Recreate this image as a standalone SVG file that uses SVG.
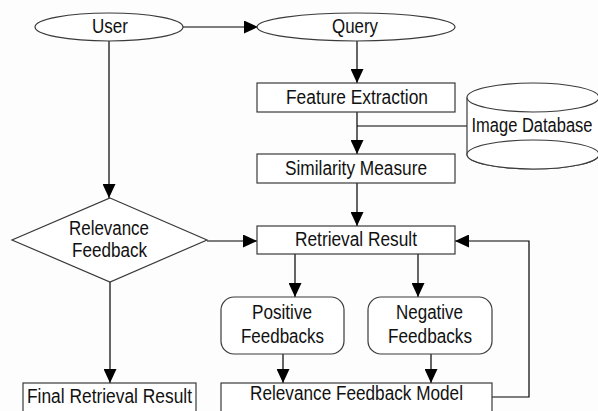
<svg xmlns="http://www.w3.org/2000/svg" width="598" height="411" viewBox="0 0 598 411">
<style>
.s{fill:#fff;stroke:#3a3a3a;stroke-width:1.2}
.c{fill:none;stroke:#000;stroke-width:1.2}
text{font-family:"Liberation Sans",Arial,sans-serif;font-size:19.5px;fill:#111;text-anchor:middle}
</style>
<defs>
<marker id="ah" markerUnits="userSpaceOnUse" markerWidth="15" markerHeight="13" refX="14" refY="6.5" orient="auto">
<path d="M0,0 L14,6.5 L0,13 z" fill="#000"/>
</marker>
</defs>
<rect width="598" height="411" fill="#fdfdfd"/>
<g id="connectors">
<path class="c" d="M183,27 H258" marker-end="url(#ah)"/>
<path class="c" d="M109,41 V198" marker-end="url(#ah)"/>
<path class="c" d="M357,41 V83" marker-end="url(#ah)"/>
<path class="c" d="M357,112 V154" marker-end="url(#ah)"/>
<path class="c" d="M357,126 H467"/>
<path class="c" d="M357,183 V226" marker-end="url(#ah)"/>
<path class="c" d="M207,241 H257" marker-end="url(#ah)"/>
<path class="c" d="M295,254 V297" marker-end="url(#ah)"/>
<path class="c" d="M418,254 V297" marker-end="url(#ah)"/>
<path class="c" d="M283,354 V383" marker-end="url(#ah)"/>
<path class="c" d="M431,354 V383" marker-end="url(#ah)"/>
<path class="c" d="M492,397 H529 V241 H455" marker-end="url(#ah)"/>
<path class="c" d="M110,282 V383" marker-end="url(#ah)"/>
</g>
<g id="user">
<ellipse class="s" cx="109" cy="27" rx="74" ry="14"/>
<text x="110" y="33" textLength="36" lengthAdjust="spacingAndGlyphs">User</text>
</g>
<g id="query">
<ellipse class="s" cx="356" cy="27" rx="99" ry="14"/>
<text x="355" y="33" textLength="46" lengthAdjust="spacingAndGlyphs">Query</text>
</g>
<g id="feature-extraction">
<rect class="s" x="257" y="83" width="198" height="29"/>
<text x="357" y="104" textLength="142" lengthAdjust="spacingAndGlyphs">Feature Extraction</text>
</g>
<g id="image-database">
<path class="s" d="M467,97.5 V154.5 A66,14.5 0 0 0 599,154.5 V97.5"/>
<ellipse class="s" cx="533" cy="97.5" rx="66" ry="14.5"/>
<ellipse class="s" cx="533" cy="154.5" rx="66" ry="14.5"/>
<text x="532" y="132" textLength="121" lengthAdjust="spacingAndGlyphs">Image Database</text>
</g>
<g id="similarity-measure">
<rect class="s" x="257" y="154" width="198" height="29"/>
<text x="356" y="175" textLength="142" lengthAdjust="spacingAndGlyphs">Similarity Measure</text>
</g>
<g id="relevance-feedback">
<polygon class="s" points="110,198 207,240 110,282 12,240"/>
<text x="109" y="235" textLength="80" lengthAdjust="spacingAndGlyphs">Relevance</text>
<text x="109.5" y="257" textLength="75" lengthAdjust="spacingAndGlyphs">Feedback</text>
</g>
<g id="retrieval-result">
<rect class="s" x="257" y="226" width="198" height="28"/>
<text x="356" y="246" textLength="122" lengthAdjust="spacingAndGlyphs">Retrieval Result</text>
</g>
<g id="positive-feedbacks">
<rect class="s" x="221" y="297" width="123" height="57" rx="13"/>
<text x="282" y="319" textLength="60" lengthAdjust="spacingAndGlyphs">Positive</text>
<text x="282.5" y="343" textLength="83" lengthAdjust="spacingAndGlyphs">Feedbacks</text>
</g>
<g id="negative-feedbacks">
<rect class="s" x="368" y="297" width="124" height="57" rx="13"/>
<text x="429.5" y="319" textLength="67" lengthAdjust="spacingAndGlyphs">Negative</text>
<text x="430" y="343" textLength="84" lengthAdjust="spacingAndGlyphs">Feedbacks</text>
</g>
<g id="relevance-feedback-model">
<rect class="s" x="221" y="383" width="271" height="30"/>
<text x="356.5" y="400" textLength="213" lengthAdjust="spacingAndGlyphs">Relevance Feedback Model</text>
</g>
<g id="final-retrieval-result">
<rect class="s" x="23" y="383" width="173" height="30"/>
<text x="109.5" y="403" textLength="165" lengthAdjust="spacingAndGlyphs">Final Retrieval Result</text>
</g>
</svg>
